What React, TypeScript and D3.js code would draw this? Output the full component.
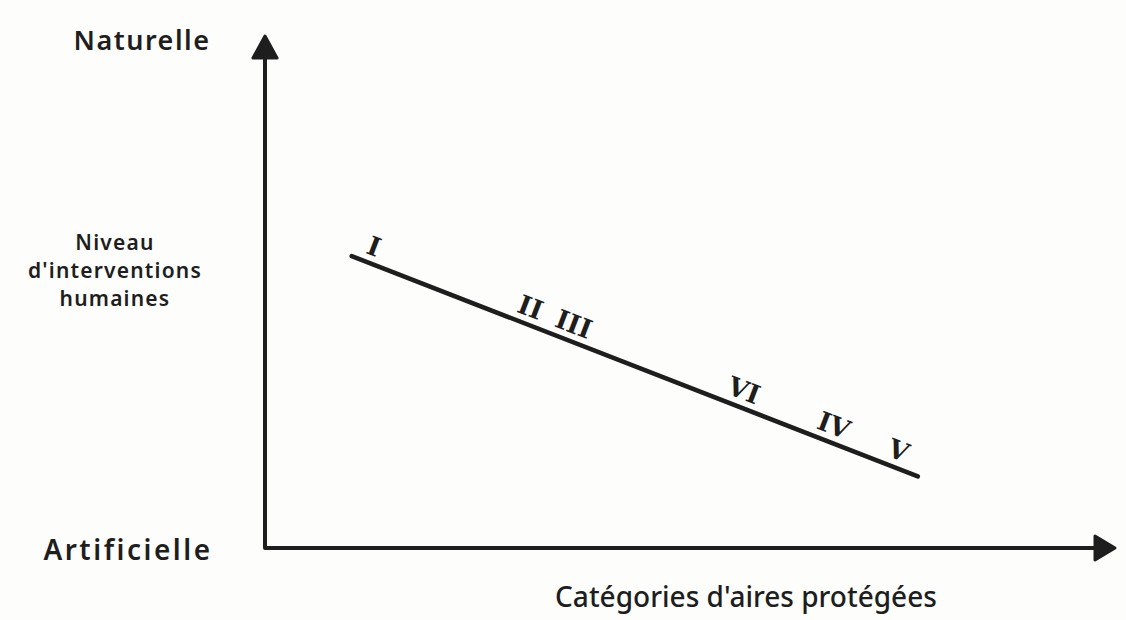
import React from 'react'
import * as d3 from 'd3'

// Hand drawn diagram: level of human intervention vs protected area categories
const yTopLabel = 'Naturelle'
const yBottomLabel = 'Artificielle'
const yAxisTitle = ['Niveau', "d'interventions", 'humaines']
const xAxisTitle = "Catégories d'aires protégées"

// trend line endpoints in chart units (x: 0-100, y: 0-100)
const trendX = [10.2, 76.8]
const trendY = [57, 14]

// category labels and their position along the trend line
const categories = ['I', 'II', 'III', 'VI', 'IV', 'V']
const categoryX = [12.1, 30.5, 35.6, 55.6, 66.2, 73.8]

const W = 1126
const H = 620
const INK = '#1e1e1e'
const HAND = '"Noto Sans", "DejaVu Sans", sans-serif'

const App = () => {
    const x = d3.scaleLinear().domain([0, 100]).range([265, 1115])
    const y = d3.scaleLinear().domain([0, 100]).range([548, 36])

    const slope = (trendY[1] - trendY[0]) / (trendX[1] - trendX[0])
    const yOnLine = (v: number) => trendY[0] + slope * (v - trendX[0])
    const angle = Math.atan2(y(trendY[1]) - y(trendY[0]), x(trendX[1]) - x(trendX[0])) * 180 / Math.PI

    const line = d3.line<number>().x((d, i) => x(trendX[i])).y((d, i) => y(d))

    const x0 = x(0)
    const y0 = y(0)
    const xEnd = x(100)
    const yEnd = y(100)

    return (
        <svg width={W} height={H} style={{ position: 'absolute', left: 0, top: 0, background: '#fdfdfc' }}>
            {/* axes */}
            <path d={`M${x0},${yEnd + 18}V${y0}H${xEnd - 18}`} fill="none" stroke={INK} strokeWidth={4} strokeLinejoin="round" />
            <path d={`M${x0 - 12},${yEnd + 22}L${x0},${yEnd}L${x0 + 12},${yEnd + 22}Z`} fill={INK} stroke={INK} strokeWidth={3} strokeLinejoin="round" />
            <path d={`M${xEnd - 20},${y0 - 12}L${xEnd},${y0}L${xEnd - 20},${y0 + 12}Z`} fill={INK} stroke={INK} strokeWidth={3} strokeLinejoin="round" />

            {/* trend line */}
            <path d={line(trendY) || ''} fill="none" stroke={INK} strokeWidth={4.5} strokeLinecap="round" />

            {/* category labels */}
            {categories.map((c, i) => {
                const px = x(categoryX[i])
                const py = y(yOnLine(categoryX[i]))
                return (
                    <text
                        key={c}
                        transform={`translate(${px},${py}) rotate(${angle}) translate(0,-8)`}
                        textAnchor="middle"
                        fontFamily='"DejaVu Serif", serif'
                        fontWeight="bold"
                        fontSize={26}
                        fill={INK}
                    >
                        {c}
                    </text>
                )
            })}

            {/* axis labels */}
            <text x={142} y={50} textAnchor="middle" fontFamily={HAND} fontWeight={600} fontSize={27} letterSpacing={1.5} fill={INK}>{yTopLabel}</text>
            <text x={128} y={560} textAnchor="middle" fontFamily={HAND} fontWeight={600} fontSize={28} letterSpacing={2.5} fill={INK}>{yBottomLabel}</text>
            {yAxisTitle.map((t, i) => (
                <text key={t} x={115} y={250 + i * 28} textAnchor="middle" fontFamily={HAND} fontWeight={600} fontSize={21} letterSpacing={1.2} fill={INK}>{t}</text>
            ))}
            <text x={746} y={607} textAnchor="middle" fontFamily={HAND} fontWeight={500} fontSize={28} fill={INK}>{xAxisTitle}</text>
        </svg>
    )
}

export default App
